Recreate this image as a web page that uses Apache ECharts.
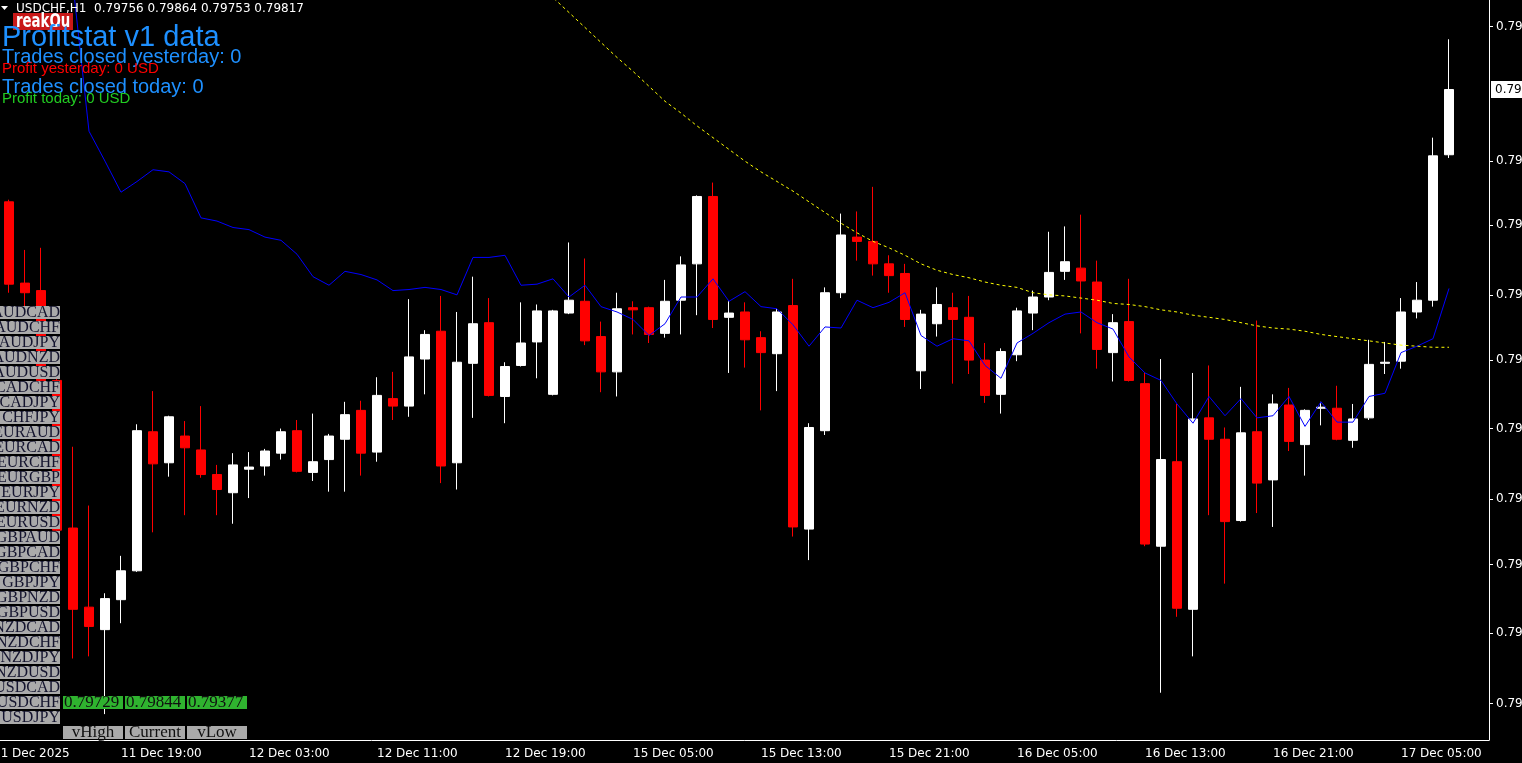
<!DOCTYPE html>
<html>
<head>
<meta charset="utf-8">
<title>USDCHF,H1</title>
<script src="https://cdn.jsdelivr.net/npm/echarts@6.0.0/dist/echarts.min.js"></script>
<style>
  html, body { margin: 0; padding: 0; background: #000; overflow: hidden; }
  #chart { width: 1522px; height: 763px; }
</style>
</head>
<body>
<div id="chart"></div>
<script>
// bar times, first slot is the bar cut off at the left edge
const times = [
  '11 Dec 11:00',
  '11 Dec 12:00', '11 Dec 13:00', '11 Dec 14:00', '11 Dec 15:00', '11 Dec 16:00', '11 Dec 17:00',
  '11 Dec 18:00', '11 Dec 19:00', '11 Dec 20:00', '11 Dec 21:00', '11 Dec 22:00', '11 Dec 23:00',
  '12 Dec 00:00', '12 Dec 01:00', '12 Dec 02:00', '12 Dec 03:00', '12 Dec 04:00', '12 Dec 05:00',
  '12 Dec 06:00', '12 Dec 07:00', '12 Dec 08:00', '12 Dec 09:00', '12 Dec 10:00', '12 Dec 11:00',
  '12 Dec 12:00', '12 Dec 13:00', '12 Dec 14:00', '12 Dec 15:00', '12 Dec 16:00', '12 Dec 17:00',
  '12 Dec 18:00', '12 Dec 19:00', '12 Dec 20:00', '12 Dec 21:00', '12 Dec 22:00', '12 Dec 23:00',
  '15 Dec 02:00', '15 Dec 03:00', '15 Dec 04:00', '15 Dec 05:00', '15 Dec 06:00', '15 Dec 07:00',
  '15 Dec 08:00', '15 Dec 09:00', '15 Dec 10:00', '15 Dec 11:00', '15 Dec 12:00', '15 Dec 13:00',
  '15 Dec 14:00', '15 Dec 15:00', '15 Dec 16:00', '15 Dec 17:00', '15 Dec 18:00', '15 Dec 19:00',
  '15 Dec 20:00', '15 Dec 21:00', '15 Dec 22:00', '15 Dec 23:00',
  '16 Dec 00:00', '16 Dec 01:00', '16 Dec 02:00', '16 Dec 03:00', '16 Dec 04:00', '16 Dec 05:00',
  '16 Dec 06:00', '16 Dec 07:00', '16 Dec 08:00', '16 Dec 09:00', '16 Dec 10:00', '16 Dec 11:00',
  '16 Dec 12:00', '16 Dec 13:00', '16 Dec 14:00', '16 Dec 15:00', '16 Dec 16:00', '16 Dec 17:00',
  '16 Dec 18:00', '16 Dec 19:00', '16 Dec 20:00', '16 Dec 21:00', '16 Dec 22:00', '16 Dec 23:00',
  '17 Dec 00:00', '17 Dec 01:00', '17 Dec 02:00', '17 Dec 03:00', '17 Dec 04:00', '17 Dec 05:00',
  '17 Dec 06:00', '17 Dec 07:00', '17 Dec 08:00', '17 Dec 09:00', '17 Dec 10:00'
]
const firstLabel = '11 Dec 2025'

// [open, close, low, high], from times[1] on
const ohlc = [
  [0.79712, 0.79635, 0.79627, 0.79714], [0.79636, 0.79627, 0.79611, 0.79667],
  [0.79629, 0.79545, 0.79536, 0.79669], [0.79545, 0.79405, 0.79400, 0.79549],
  [0.79407, 0.79331, 0.79285, 0.79483], [0.79333, 0.79315, 0.79287, 0.79428],
  [0.79312, 0.79341, 0.79233, 0.79346], [0.79340, 0.79367, 0.79318, 0.79381],
  [0.79367, 0.79498, 0.79366, 0.79504], [0.79497, 0.79467, 0.79403, 0.79535],
  [0.79468, 0.79511, 0.79455, 0.79512], [0.79493, 0.79482, 0.79419, 0.79507],
  [0.79480, 0.79457, 0.79454, 0.79521], [0.79457, 0.79443, 0.79419, 0.79466],
  [0.79440, 0.79466, 0.79411, 0.79477], [0.79462, 0.79464, 0.79435, 0.79478],
  [0.79465, 0.79479, 0.79456, 0.79481], [0.79477, 0.79497, 0.79471, 0.79500],
  [0.79498, 0.79460, 0.79459, 0.79508], [0.79459, 0.79469, 0.79451, 0.79514],
  [0.79471, 0.79493, 0.79441, 0.79495], [0.79490, 0.79513, 0.79441, 0.79525],
  [0.79517, 0.79477, 0.79456, 0.79526], [0.79478, 0.79531, 0.79469, 0.79548],
  [0.79528, 0.79521, 0.79508, 0.79553], [0.79521, 0.79567, 0.79511, 0.79621],
  [0.79565, 0.79588, 0.79532, 0.79592], [0.79591, 0.79465, 0.79449, 0.79624],
  [0.79468, 0.79562, 0.79443, 0.79609], [0.79561, 0.79598, 0.79510, 0.79642],
  [0.79599, 0.79531, 0.79530, 0.79622], [0.79530, 0.79558, 0.79505, 0.79562],
  [0.79559, 0.79580, 0.79558, 0.79618], [0.79581, 0.79610, 0.79547, 0.79616],
  [0.79532, 0.79610, 0.79531, 0.79611], [0.79608, 0.79620, 0.79607, 0.79674],
  [0.79619, 0.79582, 0.79578, 0.79659], [0.79586, 0.79553, 0.79534, 0.79600],
  [0.79553, 0.79612, 0.79530, 0.79627], [0.79613, 0.79611, 0.79588, 0.79619],
  [0.79613, 0.79588, 0.79580, 0.79614], [0.79589, 0.79619, 0.79585, 0.79639],
  [0.79620, 0.79653, 0.79588, 0.79661], [0.79654, 0.79717, 0.79606, 0.79718],
  [0.79717, 0.79602, 0.79594, 0.79730], [0.79604, 0.79608, 0.79552, 0.79619],
  [0.79609, 0.79583, 0.79557, 0.79618], [0.79585, 0.79571, 0.79517, 0.79591],
  [0.79570, 0.79609, 0.79535, 0.79612], [0.79615, 0.79408, 0.79399, 0.79640],
  [0.79406, 0.79501, 0.79377, 0.79505], [0.79498, 0.79627, 0.79494, 0.79632],
  [0.79627, 0.79681, 0.79622, 0.79701], [0.79679, 0.79675, 0.79657, 0.79703],
  [0.79675, 0.79654, 0.79643, 0.79726], [0.79654, 0.79643, 0.79627, 0.79662],
  [0.79645, 0.79602, 0.79595, 0.79654], [0.79554, 0.79607, 0.79537, 0.79611],
  [0.79598, 0.79616, 0.79586, 0.79632], [0.79613, 0.79602, 0.79542, 0.79627],
  [0.79604, 0.79564, 0.79551, 0.79624], [0.79564, 0.79531, 0.79524, 0.79580],
  [0.79532, 0.79572, 0.79514, 0.79575], [0.79569, 0.79610, 0.79563, 0.79613],
  [0.79608, 0.79623, 0.79592, 0.79629], [0.79623, 0.79646, 0.79620, 0.79684],
  [0.79647, 0.79656, 0.79639, 0.79689], [0.79650, 0.79638, 0.79589, 0.79700],
  [0.79637, 0.79574, 0.79556, 0.79657], [0.79571, 0.79599, 0.79544, 0.79607],
  [0.79600, 0.79545, 0.79544, 0.79640], [0.79542, 0.79392, 0.79390, 0.79552],
  [0.79390, 0.79471, 0.79253, 0.79565], [0.79469, 0.79332, 0.79324, 0.79523],
  [0.79331, 0.79509, 0.79287, 0.79552], [0.79510, 0.79490, 0.79419, 0.79559],
  [0.79490, 0.79413, 0.79355, 0.79501], [0.79414, 0.79496, 0.79413, 0.79539],
  [0.79497, 0.79449, 0.79421, 0.79601], [0.79452, 0.79523, 0.79408, 0.79532],
  [0.79522, 0.79488, 0.79479, 0.79538], [0.79485, 0.79517, 0.79456, 0.79518],
  [0.79519, 0.79520, 0.79503, 0.79525], [0.79519, 0.79490, 0.79489, 0.79540],
  [0.79489, 0.79509, 0.79482, 0.79523], [0.79510, 0.79560, 0.79508, 0.79583],
  [0.79561, 0.79562, 0.79551, 0.79581], [0.79563, 0.79609, 0.79556, 0.79622],
  [0.79609, 0.79620, 0.79603, 0.79637], [0.79620, 0.79755, 0.79614, 0.79772],
  [0.79756, 0.79817, 0.79753, 0.79864]
]

// blue MA, starts at ohlc[4]
const fastMaStart = 4
const fastMa = [
  0.79915, 0.79778, 0.79750, 0.79721, 0.79731, 0.79742,
  0.79740, 0.79729, 0.79697, 0.79694, 0.79688, 0.79686, 0.79679, 0.79676, 0.79663, 0.79642,
  0.79634, 0.79647, 0.79644, 0.79639, 0.79629, 0.79630, 0.79632, 0.79630, 0.79625, 0.79660,
  0.79660, 0.79662, 0.79634, 0.79635, 0.79640, 0.79623, 0.79634, 0.79614, 0.79609, 0.79602,
  0.79587, 0.79598, 0.79623, 0.79623, 0.79640, 0.79619, 0.79628, 0.79614, 0.79612, 0.79597,
  0.79577, 0.79595, 0.79594, 0.79620, 0.79613, 0.79618, 0.79627, 0.79587, 0.79577, 0.79584,
  0.79582, 0.79559, 0.79547, 0.79580, 0.79589, 0.79599, 0.79607, 0.79609, 0.79599, 0.79593,
  0.79567, 0.79552, 0.79545, 0.79523, 0.79505, 0.79530, 0.79512, 0.79528, 0.79510, 0.79512,
  0.79530, 0.79502, 0.79525, 0.79506, 0.79506, 0.79530, 0.79533, 0.79571, 0.79577, 0.79584,
  0.79631
]

// yellow dotted MA, starts at ohlc[33]
const slowMaStart = 33
const slowMa = [
  0.79918, 0.79903, 0.79889, 0.79875, 0.79861, 0.79847, 0.79834,
  0.79820, 0.79806, 0.79795, 0.79783, 0.79772, 0.79761, 0.79750, 0.79740, 0.79731, 0.79722,
  0.79712, 0.79702, 0.79692, 0.79683, 0.79675, 0.79669, 0.79662, 0.79654, 0.79648, 0.79644,
  0.79641, 0.79637, 0.79634, 0.79632, 0.79627, 0.79625, 0.79624, 0.79622, 0.79620, 0.79617,
  0.79616, 0.79614, 0.79611, 0.79609, 0.79606, 0.79604, 0.79602, 0.79599, 0.79596, 0.79594,
  0.79593, 0.79591, 0.79588, 0.79586, 0.79584, 0.79582, 0.79580, 0.79578, 0.79577, 0.79576,
  0.79576
]

const priceMin = 0.792088
const priceMax = 0.799007
const priceTicks = [0.79876, 0.79750, 0.79690, 0.79625, 0.79564, 0.79500, 0.79434, 0.79373, 0.79309, 0.79243]
const lastPrice = 0.79817

const symbols = [
  'AUDCAD', 'AUDCHF', 'AUDJPY', 'AUDNZD', 'AUDUSD', 'CADCHF', 'CADJPY', 'CHFJPY',
  'EURAUD', 'EURCAD', 'EURCHF', 'EURGBP', 'EURJPY', 'EURNZD', 'EURUSD',
  'GBPAUD', 'GBPCAD', 'GBPCHF', 'GBPJPY', 'GBPNZD', 'GBPUSD',
  'NZDCAD', 'NZDCHF', 'NZDJPY', 'NZDUSD', 'USDCAD', 'USDCHF', 'USDJPY'
]
const statValues = ['0.79729', '0.79844', '0.79377']
const statNames = ['vHigh', 'Current', 'vLow']

// put a list onto the category slots (ohlc[0] sits at times[1])
const onSlots = (arr, start) => {
  const out = times.map(() => '-')
  arr.forEach((v, i) => { out[start + 1 + i] = v })
  return out
}

const labelEvery = (idx) => idx % 8 === 0
const axisFont = { color: '#ffffff', fontFamily: 'DejaVu Sans', fontSize: 12 }

// overlay objects of the terminal (text panels, symbol list)
const txt = (x, y, text, font, fill, align, scaleX) => ({
  type: 'text', x, y, z: 100, silent: true, scaleX: scaleX || 1,
  style: { text, font, fill, textAlign: align || 'left', textVerticalAlign: 'middle' }
})
const box = (x, y, w, h, fill) => ({
  type: 'rect', z: 99, silent: true, shape: { x, y, width: w, height: h }, style: { fill }
})

const overlay = [
  { type: 'polygon', z: 100, silent: true, shape: { points: [[1, 6], [8, 6], [4.5, 10]] }, style: { fill: '#ffffff' } },
  txt(16, 9, 'USDCHF,H1  0.79756 0.79864 0.79753 0.79817', '12px "DejaVu Sans"', '#ffffff'),
  box(13, 13, 60, 17, '#c81818'),
  txt(16, 22, 'reakOu', 'bold 19px "DejaVu Sans Condensed"', '#ffffff', 'left', 0.78),
  txt(2, 38, 'Profitstat v1 data', '29px "Liberation Sans"', '#1e90ff'),
  txt(2, 57, 'Trades closed yesterday: 0', '20px "Liberation Sans"', '#1e90ff'),
  txt(2, 69, 'Profit yesterday: 0 USD', '15px "Liberation Sans"', '#ff0000'),
  txt(2, 87, 'Trades closed today: 0', '20px "Liberation Sans"', '#1e90ff'),
  txt(2, 99, 'Profit today: 0 USD', '15px "Liberation Sans"', '#22cc22')
]
symbols.forEach((s, k) => {
  const y = 306 + 15 * k
  overlay.push(box(0, y, 60, 13, '#aaaaaa'))
  overlay.push(txt(60, y + 7, s, '16px "Liberation Serif"', '#14142e', 'right'))
})
statValues.forEach((v, k) => {
  const x = 63 + 62 * k
  overlay.push(box(x, 696, 60, 13, '#2fb32f'))
  overlay.push(txt(x + 1, 703, v, '17px "Liberation Serif"', '#101010'))
  overlay.push(box(x, 726, 60, 13, '#aaaaaa'))
  overlay.push(txt(x + 30, 733, statNames[k], '17px "Liberation Serif"', '#101010', 'center'))
})

const chart = echarts.init(document.getElementById('chart'))
chart.setOption({
  backgroundColor: '#000000',
  animation: false,
  grid: { left: -15, right: 33, top: 0, bottom: 23, containLabel: false, outerBoundsMode: 'none' },
  xAxis: {
    type: 'category',
    data: times,
    boundaryGap: true,
    axisLine: { lineStyle: { color: '#ffffff', width: 1 } },
    axisTick: { alignWithLabel: true, length: 4, interval: labelEvery, lineStyle: { color: '#ffffff' } },
    axisLabel: {
      ...axisFont,
      interval: labelEvery,
      align: 'left',
      margin: 8,
      formatter: (v, idx) => (idx === 0 ? firstLabel : v)
    },
    splitLine: { show: false }
  },
  yAxis: [
    {
      type: 'value',
      position: 'right',
      min: priceMin,
      max: priceMax,
      axisLine: { show: true, lineStyle: { color: '#ffffff', width: 1 } },
      axisTick: { show: true, length: 4, customValues: priceTicks, lineStyle: { color: '#ffffff' } },
      axisLabel: { ...axisFont, margin: 7, customValues: priceTicks, formatter: (v) => v.toFixed(5) },
      splitLine: { show: false }
    },
    {
      // bid price tag on the price scale
      type: 'value',
      position: 'right',
      min: priceMin,
      max: priceMax,
      axisLine: { show: false },
      axisTick: { show: false },
      axisLabel: {
        ...axisFont,
        color: '#000000',
        backgroundColor: '#ffffff',
        padding: [3, 3, 2, 4],
        margin: 2,
        customValues: [lastPrice],
        formatter: (v) => v.toFixed(5)
      },
      splitLine: { show: false }
    }
  ],
  series: [
    {
      type: 'candlestick',
      data: onSlots(ohlc, 0),
      barWidth: 10,
      itemStyle: {
        color: '#ffffff', color0: '#ff0000',
        borderColor: '#ffffff', borderColor0: '#ff0000', borderWidth: 1
      }
    },
    {
      type: 'line',
      data: onSlots(fastMa, fastMaStart),
      symbol: 'none',
      lineStyle: { color: '#0000ff', width: 1 }
    },
    {
      type: 'line',
      data: onSlots(slowMa, slowMaStart),
      symbol: 'none',
      lineStyle: { color: '#ffff00', width: 1, type: [3, 3] }
    }
  ],
  graphic: { elements: overlay }
})
</script>
</body>
</html>
